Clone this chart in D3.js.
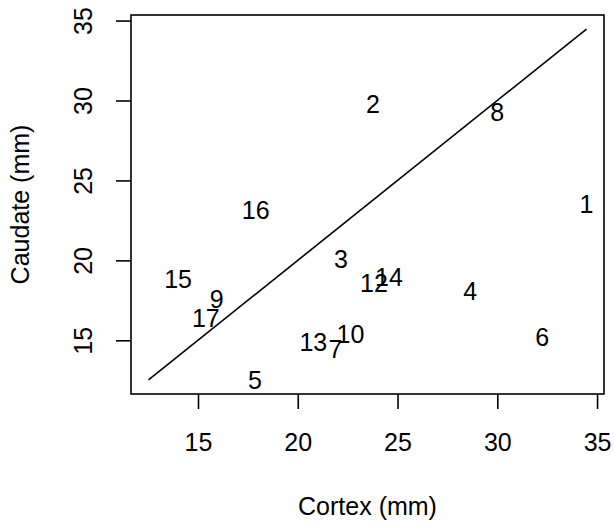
<!DOCTYPE html>
<html>
<head>
<meta charset="utf-8">
<script src="https://cdn.jsdelivr.net/npm/d3@7"></script>
<style>
  html, body { margin: 0; padding: 0; background: #fff; }
  svg { display: block; }
  text { font-family: "Liberation Sans", Arial, Helvetica, sans-serif; fill: #000; }
</style>
</head>
<body>
<svg id="chart" width="614" height="522"></svg>
<script>
// ---- data ----
const labels  = ["1", "2", "3", "4", "5", "6", "7", "8", "9", "10", "12", "13", "14", "15", "16", "17"];
const cortex  = [34.47, 23.77, 22.17, 28.64, 17.85, 32.25, 21.89, 29.99, 15.94, 22.64, 23.82, 20.78, 24.57, 14.00, 17.89, 15.39];
const caudate = [23.50, 29.79, 20.10, 18.08, 12.52, 15.23, 14.48, 29.27, 17.60, 15.38, 18.56, 14.90, 18.96, 18.81, 23.13, 16.42];
const xTicks  = [15, 20, 25, 30, 35];
const yTicks  = [15, 20, 25, 30, 35];
const xTitle  = "Cortex (mm)";
const yTitle  = "Caudate (mm)";

// ---- layout ----
const svg = d3.select("#chart");
const L = 131, R = 604, T = 15, B = 394;
const fs = 25;

const lo = Math.min(d3.min(cortex), d3.min(caudate));
const hi = Math.max(d3.max(cortex), d3.max(caudate));
const pad = (hi - lo) * 0.04;
const x = d3.scaleLinear().domain([lo - pad, hi + pad]).range([L, R]);
const y = d3.scaleLinear().domain([lo - pad, hi + pad]).range([B, T]);

// box
svg.append("rect")
  .attr("x", L).attr("y", T).attr("width", R - L).attr("height", B - T)
  .attr("fill", "none").attr("stroke", "#000").attr("stroke-width", 1.6);

// x axis
const xAxis = svg.append("g").attr("transform", `translate(0,${B})`)
  .call(d3.axisBottom(x).tickValues(xTicks).tickSize(15).tickPadding(0).tickFormat(d3.format("d")));
xAxis.select(".domain").remove();
xAxis.selectAll(".tick line").attr("stroke", "#000").attr("stroke-width", 1.6);
xAxis.selectAll(".tick text")
  .attr("font-size", fs).attr("font-family", "Liberation Sans, Arial, sans-serif")
  .attr("y", 57).attr("dy", null).attr("fill", "#000");

// y axis
const yAxis = svg.append("g").attr("transform", `translate(${L},0)`)
  .call(d3.axisLeft(y).tickValues(yTicks).tickSize(15).tickPadding(0).tickFormat(d3.format("d")));
yAxis.select(".domain").remove();
yAxis.selectAll(".tick line").attr("stroke", "#000").attr("stroke-width", 1.6);
yAxis.selectAll(".tick text")
  .attr("font-size", fs).attr("font-family", "Liberation Sans, Arial, sans-serif")
  .attr("x", null).attr("dy", null).attr("fill", "#000")
  .attr("text-anchor", "middle")
  .attr("transform", "translate(-39,0) rotate(-90)");

// axis titles
svg.append("text")
  .attr("x", (L + R) / 2).attr("y", 515)
  .attr("text-anchor", "middle").attr("font-size", fs)
  .text(xTitle);
svg.append("text")
  .attr("transform", `translate(29,${(T + B) / 2}) rotate(-90)`)
  .attr("text-anchor", "middle").attr("font-size", fs)
  .text(yTitle);

// identity line
svg.append("line")
  .attr("x1", x(lo)).attr("y1", y(lo))
  .attr("x2", x(hi)).attr("y2", y(hi))
  .attr("stroke", "#000").attr("stroke-width", 1.6);

// point labels
svg.append("g").selectAll("text")
  .data(labels)
  .join("text")
  .attr("x", (d, i) => x(cortex[i]))
  .attr("y", (d, i) => y(caudate[i]))
  .attr("dy", "0.36em")
  .attr("text-anchor", "middle")
  .attr("font-size", fs)
  .text(d => d);
</script>
</body>
</html>
